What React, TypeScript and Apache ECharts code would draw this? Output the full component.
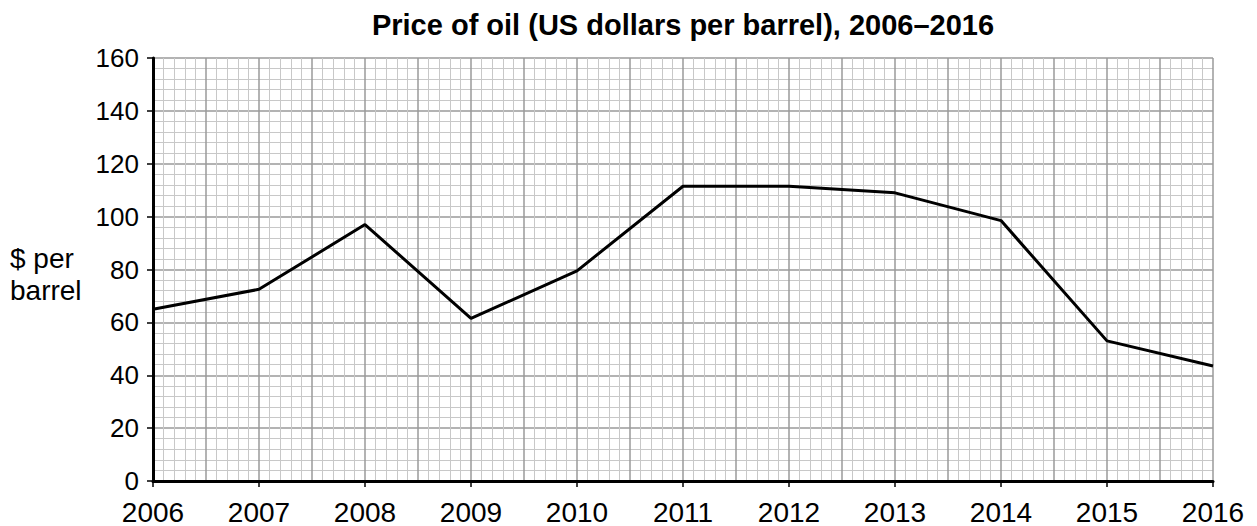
import React, { useEffect, useRef } from "react";
import * as echarts from "echarts";

const years: number[] = [2006, 2007, 2008, 2009, 2010, 2011, 2012, 2013, 2014, 2015, 2016];
const prices: number[] = [65, 72.5, 97, 61.5, 79.5, 111.5, 111.5, 109, 98.5, 53, 43.5];
const yTicks: number[] = [0, 20, 40, 60, 80, 100, 120, 140, 160];
const titleText = "Price of oil (US dollars per barrel), 2006\u20132016";
const yName = "$ per\nbarrel";

const FONT = "'Liberation Sans', Arial, Helvetica, sans-serif";

export default function App() {
  const ref = useRef<HTMLDivElement>(null);
  useEffect(() => {
    document.body.style.margin = "0";
    if (!ref.current) return;
    const chart = echarts.init(ref.current, undefined, { renderer: "svg" });
    const data = years.map((y, i) => [y, prices[i]]);
    chart.setOption({
      animation: false,
      backgroundColor: "#ffffff",
      textStyle: { fontFamily: FONT },
      graphic: [
        {
          type: "text",
          x: 683,
          y: 25,
          style: {
            text: titleText,
            fontFamily: FONT,
            fontSize: 29,
            fontWeight: "bold",
            fill: "#000",
            align: "center",
            verticalAlign: "middle",
          },
        },
        {
          type: "text",
          x: 10,
          y: 274,
          style: {
            text: yName,
            fontFamily: FONT,
            fontSize: 28,
            lineHeight: 32,
            fill: "#000",
            align: "left",
            verticalAlign: "middle",
          },
        },
      ],
      grid: { left: 153, right: 44, top: 58, bottom: 44, containLabel: false },
      xAxis: [
        {
          type: "value",
          position: "bottom",
          min: 2006,
          max: 2016,
          interval: 0.5,
          axisLine: { show: false },
          axisTick: { show: false },
          axisLabel: { show: false },
          splitLine: { show: true, lineStyle: { color: "#9a9a9a", width: 1.5 } },
          minorTick: { show: false, splitNumber: 5 },
          minorSplitLine: { show: true, lineStyle: { color: "#c8c8c8", width: 1 } },
        },
        {
          type: "value",
          position: "bottom",
          min: 2006,
          max: 2016,
          interval: 1,
          axisLine: { show: true, onZero: false, lineStyle: { color: "#000", width: 3 } },
          axisTick: { show: true, length: 6, lineStyle: { color: "#000", width: 1.5 } },
          axisLabel: {
            show: true,
            color: "#000",
            fontSize: 28,
            fontFamily: FONT,
            margin: 17,
            formatter: (v: number) => String(v),
          },
          splitLine: { show: false },
        },
      ],
      yAxis: {
        type: "value",
        min: 0,
        max: 160,
        interval: 20,
        data: yTicks,
        axisLine: { show: true, lineStyle: { color: "#000", width: 3 } },
        axisTick: { show: true, length: 6, lineStyle: { color: "#000", width: 1.5 } },
        axisLabel: { color: "#000", fontSize: 26, fontFamily: FONT, margin: 14 },
        splitLine: { show: true, lineStyle: { color: "#9a9a9a", width: 1.5 } },
        minorTick: { show: false, splitNumber: 5 },
        minorSplitLine: { show: true, lineStyle: { color: "#c8c8c8", width: 1 } },
      },
      series: [
        {
          type: "line",
          xAxisIndex: 1,
          data,
          showSymbol: false,
          symbol: "none",
          lineStyle: { color: "#000", width: 3 },
          z: 5,
        },
      ],
    });
    return () => chart.dispose();
  }, []);
  return <div ref={ref} style={{ width: 1257, height: 526 }} />;
}
